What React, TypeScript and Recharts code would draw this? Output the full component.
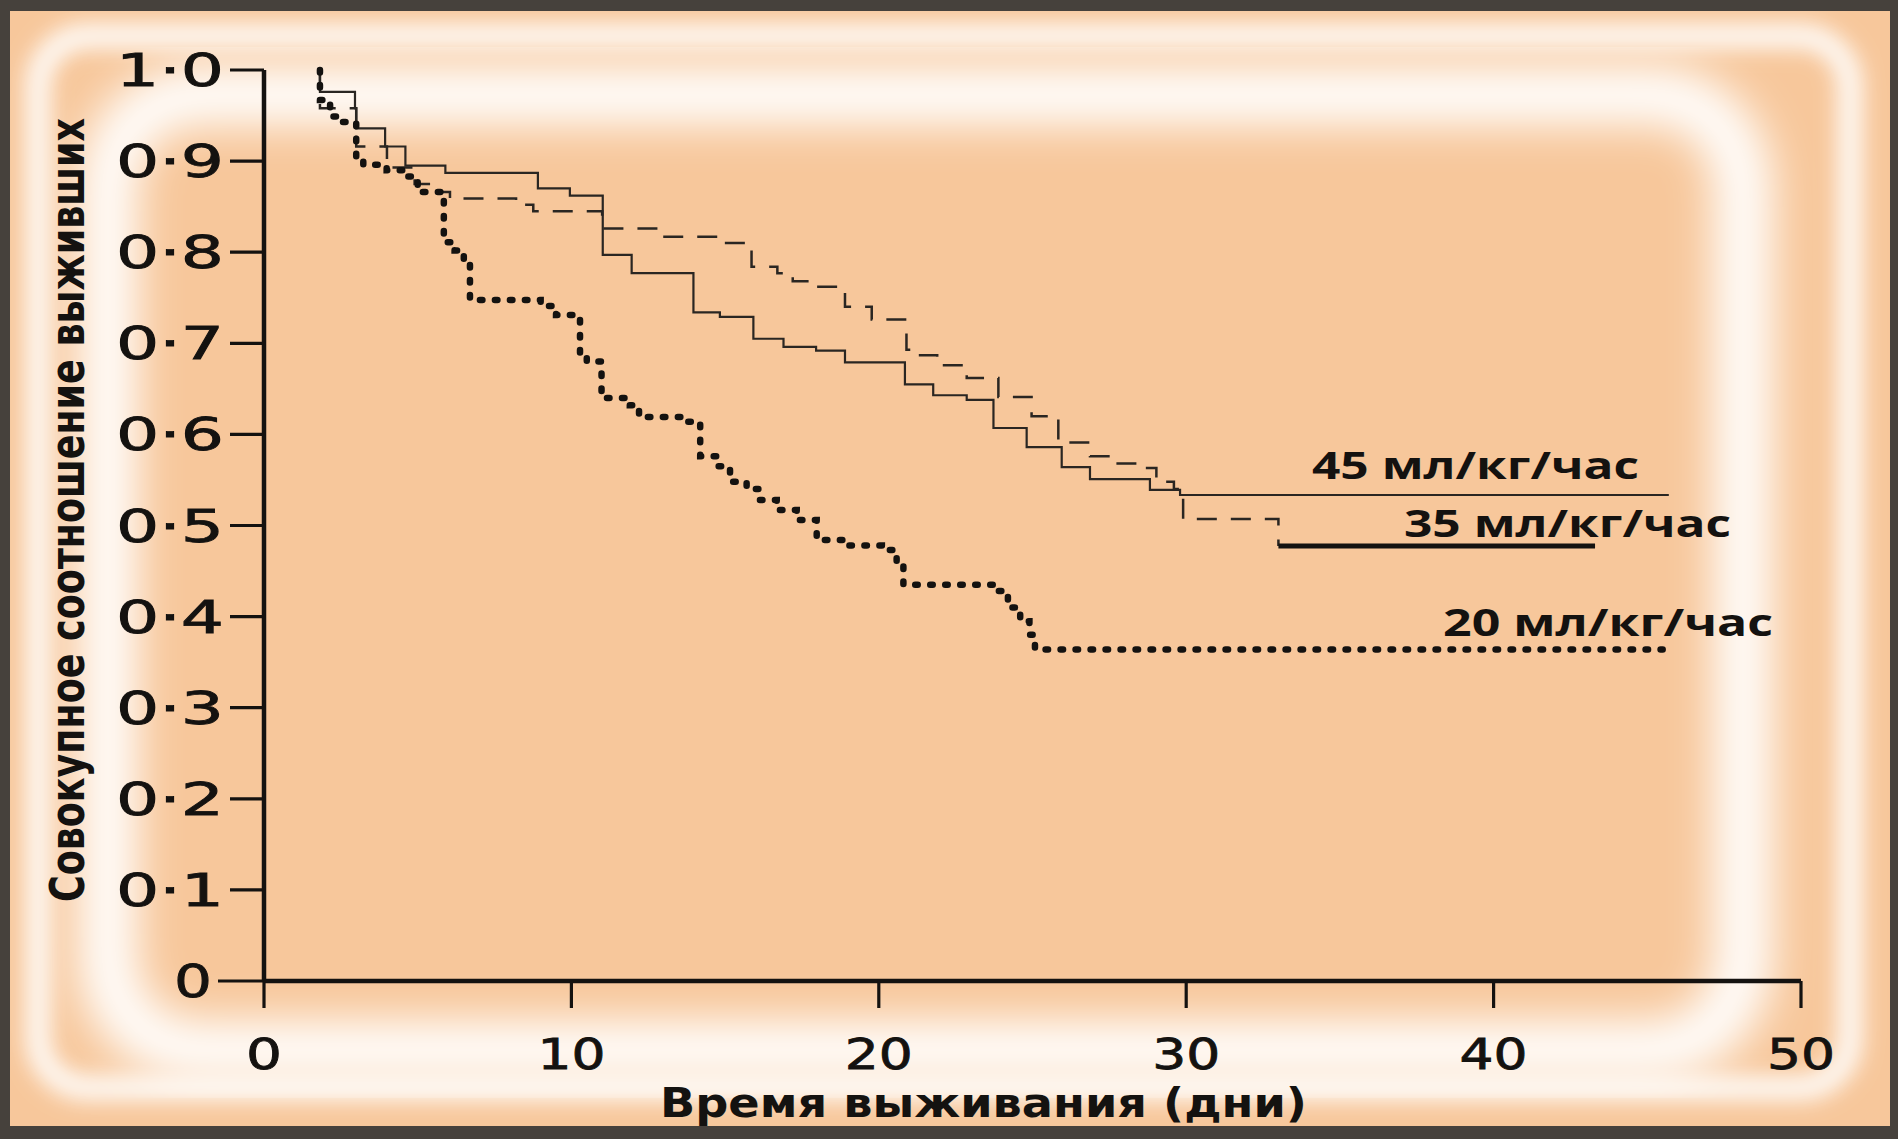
import { LineChart, Line, XAxis, YAxis } from "recharts";

const W = 1898;
const H = 1139;

// survival steps (day, cumulative survival)
const days45 = [1.82, 1.82, 2.96, 3.0, 3.94, 4.6, 5.9, 8.91, 9.95, 11.02, 11.96, 13.97, 14.83, 15.92, 16.9, 17.96, 18.9, 20.85, 21.77, 22.86, 23.73, 24.81, 25.95, 26.87, 28.82, 29.8, 45.7];
const surv45 = [1.0, 0.976, 0.958, 0.936, 0.916, 0.895, 0.887, 0.87, 0.862, 0.797, 0.777, 0.734, 0.729, 0.705, 0.696, 0.692, 0.679, 0.655, 0.643, 0.638, 0.607, 0.586, 0.564, 0.551, 0.539, 0.5335, 0.5335];

const days35 = [1.82, 1.82, 3.0, 4.0, 4.9, 5.5, 6.05, 8.2, 8.76, 11.0, 12.9, 14.83, 15.86, 16.7, 17.2, 17.87, 18.9, 19.77, 20.9, 21.1, 21.9, 22.86, 23.89, 24.97, 25.84, 26.87, 27.6, 28.6, 29.03, 29.6, 29.9, 33.0];
const surv35 = [1.0, 0.958, 0.916, 0.893, 0.875, 0.866, 0.859, 0.852, 0.845, 0.826, 0.817, 0.81, 0.784, 0.777, 0.768, 0.762, 0.74, 0.726, 0.693, 0.687, 0.676, 0.662, 0.641, 0.62, 0.591, 0.576, 0.568, 0.563, 0.548, 0.54, 0.507, 0.4775];
const days35Tail = [33.0, 43.3];
const surv35Tail = [0.4775, 0.4775];

const days20 = [1.82, 1.82, 2.15, 2.47, 3.0, 3.23, 3.99, 4.53, 5.0, 5.85, 6.2, 6.5, 6.7, 9.0, 9.5, 10.28, 10.5, 10.98, 11.9, 12.2, 13.64, 14.19, 14.73, 15.16, 15.7, 16.1, 16.68, 17.33, 17.98, 18.96, 20.1, 20.58, 20.8, 23.73, 24.2, 24.6, 24.9, 25.08, 45.5];
const surv20 = [1.0, 0.967, 0.949, 0.943, 0.905, 0.896, 0.89, 0.883, 0.866, 0.811, 0.802, 0.79, 0.7475, 0.741, 0.731, 0.685, 0.68, 0.64, 0.632, 0.619, 0.614, 0.576, 0.565, 0.548, 0.54, 0.528, 0.517, 0.506, 0.484, 0.478, 0.473, 0.455, 0.435, 0.428, 0.41, 0.395, 0.38, 0.364, 0.364];

const xTicks = [0, 10, 20, 30, 40, 50];
const yTicks = [0, 0.1, 0.2, 0.3, 0.4, 0.5, 0.6, 0.7, 0.8, 0.9, 1.0];
const seriesNames = ["45 мл/кг/час", "35 мл/кг/час", "20 мл/кг/час"];
const xTitle = "Время выживания (дни)";
const yTitle = "Совокупное соотношение выживших";

const rows = (t: number[], s: number[]) => t.map((d, i) => ({ t: d, s: s[i] }));

const INK = "#141210";
const tickFont = "'DejaVu Sans', 'Liberation Sans', sans-serif";
const narrowFont = "'Liberation Sans Narrow', 'DejaVu Sans', sans-serif";
const labelFont = "'Open Sans', 'Noto Sans', sans-serif";

function YTick(props: any) {
  const { x, y, payload } = props;
  const v = payload.value as number;
  const zero = v === 0;
  const len = zero ? 46 : 34;
  const label = zero ? "0" : v.toFixed(1).replace(".", "·");
  const w = zero ? 38 : 108;
  const right = x - len - 6;
  return (
    <g>
      <line x1={x - len} x2={x} y1={y} y2={y} stroke={INK} strokeWidth={3.2} />
      <text x={right - w} y={y + 16} textLength={w} lengthAdjust="spacingAndGlyphs" fontSize={44} fontFamily={tickFont} fill={INK} stroke={INK} strokeWidth={0.8}>
        {label}
      </text>
    </g>
  );
}

function XTick(props: any) {
  const { x, y, payload } = props;
  const label = String(payload.value);
  const w = label.length === 1 ? 36 : 68;
  return (
    <g>
      <line x1={x} x2={x} y1={y} y2={y + 27} stroke={INK} strokeWidth={3.2} />
      <text x={x - w / 2} y={y + 88} textLength={w} lengthAdjust="spacingAndGlyphs" fontSize={43} fontFamily={tickFont} fill={INK} stroke={INK} strokeWidth={0.8}>
        {label}
      </text>
    </g>
  );
}

function Background() {
  return (
    <svg width={W} height={H} style={{ position: "absolute", left: 0, top: 0 }}>
      <defs>
        <filter id="glowA" x="-5%" y="-5%" width="110%" height="110%">
          <feGaussianBlur stdDeviation="11" />
        </filter>
        <filter id="glowB" x="-5%" y="-5%" width="110%" height="110%">
          <feGaussianBlur stdDeviation="22" />
        </filter>
        <clipPath id="inner">
          <rect x={10} y={11} width={W - 18} height={H - 24} />
        </clipPath>
      </defs>
      <rect width={W} height={H} fill="#46413c" />
      <rect x={10} y={11} width={W - 18} height={H - 24} fill="#f7c79b" />
      <g clipPath="url(#inner)">
        <rect x={38} y={36} width={1812} height={1052} rx={50} fill="none" stroke="#fff" strokeWidth={24} filter="url(#glowA)" opacity={0.95} />
        <rect x={108} y={95} width={1635} height={955} rx={90} fill="none" stroke="#fff" strokeWidth={58} filter="url(#glowB)" />
      </g>
    </svg>
  );
}

function Texts() {
  return (
    <svg width={W} height={H} style={{ position: "absolute", left: 0, top: 0, pointerEvents: "none" }}>
      <g transform="translate(84, 510) rotate(-90)">
        <text x={-392} y={0} textLength={784} lengthAdjust="spacingAndGlyphs" fontSize={48} fontWeight="bold" fontFamily={narrowFont} fill={INK}>
          {yTitle}
        </text>
      </g>
      <text x={660} y={1117} textLength={647} lengthAdjust="spacingAndGlyphs" fontSize={40} fontWeight="bold" fontFamily={narrowFont} fill={INK}>
        {xTitle}
      </text>
      <text x={1312} y={479} textLength={327} lengthAdjust="spacingAndGlyphs" fontSize={38} fontWeight={700} fontFamily={labelFont} fill={INK}>
        {seriesNames[0]}
      </text>
      <text x={1404} y={537} textLength={327} lengthAdjust="spacingAndGlyphs" fontSize={38} fontWeight={700} fontFamily={labelFont} fill={INK}>
        {seriesNames[1]}
      </text>
      <text x={1443} y={636} textLength={330} lengthAdjust="spacingAndGlyphs" fontSize={38} fontWeight={700} fontFamily={labelFont} fill={INK}>
        {seriesNames[2]}
      </text>
    </svg>
  );
}

export default function App() {
  return (
    <div style={{ position: "absolute", left: 0, top: 0, width: W, height: H, overflow: "hidden" }}>
      <Background />
      <div style={{ position: "absolute", left: 0, top: 0 }}>
        <LineChart width={W} height={H} margin={{ top: 70, right: 97, bottom: 40, left: 0 }}>
          <XAxis
            dataKey="t"
            type="number"
            domain={[0, 50]}
            ticks={xTicks}
            height={118}
            tickSize={0}
            tickMargin={0}
            tickLine={false}
            axisLine={{ stroke: INK, strokeWidth: 4.5 }}
            tick={<XTick />}
            interval={0}
          />
          <YAxis
            type="number"
            domain={[0, 1]}
            ticks={yTicks}
            width={264}
            tickSize={0}
            tickMargin={0}
            tickLine={false}
            axisLine={{ stroke: INK, strokeWidth: 4.5 }}
            tick={<YTick />}
            interval={0}
          />
          <Line data={rows(days45, surv45)} dataKey="s" type="stepAfter" stroke="#2a2622" strokeWidth={2.2} dot={false} activeDot={false} isAnimationActive={false} />
          <Line data={rows(days35, surv35)} dataKey="s" type="stepAfter" stroke="#2a2622" strokeWidth={2.5} strokeDasharray="20 14" dot={false} activeDot={false} isAnimationActive={false} />
          <Line data={rows(days35Tail, surv35Tail)} dataKey="s" type="stepAfter" stroke={INK} strokeWidth={5} dot={false} activeDot={false} isAnimationActive={false} />
          <Line data={rows(days20, surv20)} dataKey="s" type="stepAfter" stroke={INK} strokeWidth={6.5} strokeDasharray="2.5 12.5" strokeLinecap="round" dot={false} activeDot={false} isAnimationActive={false} />
        </LineChart>
      </div>
      <Texts />
    </div>
  );
}
